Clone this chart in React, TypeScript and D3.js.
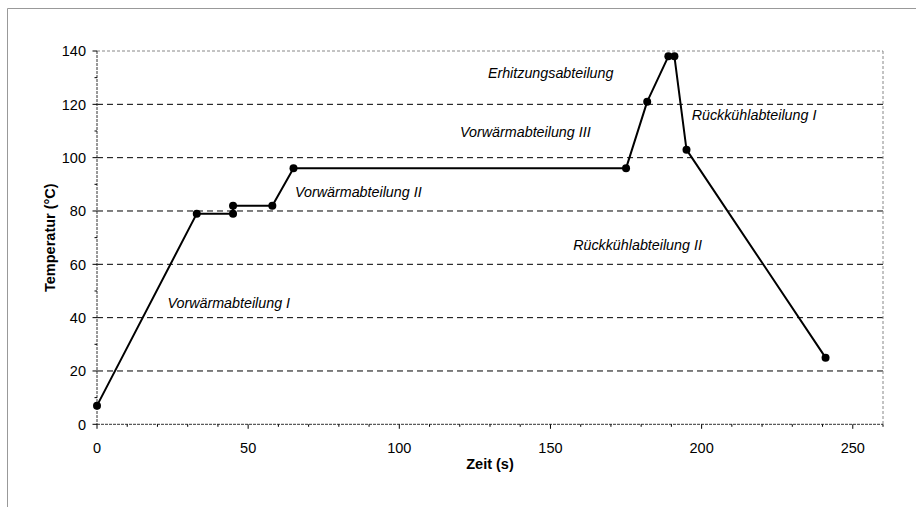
import React from "react";
import * as d3 from "d3";

const timeS = [0, 33, 45, 45, 58, 65, 175, 182, 189, 191, 195, 241];
const tempC = [7, 79, 79, 82, 82, 96, 96, 121, 138, 138, 103, 25];

const yMajorTicks = [0, 20, 40, 60, 80, 100, 120, 140];
const yMinorTicks = [10, 30, 50, 70, 90, 110, 130];
const xMajorTicks = [0, 50, 100, 150, 200, 250];
const xMinorTicks = [10, 20, 30, 40, 60, 70, 80, 90, 110, 120, 130, 140, 160, 170, 180, 190, 210, 220, 230, 240, 260];

const labelTexts = [
  "Vorwärmabteilung I",
  "Vorwärmabteilung II",
  "Vorwärmabteilung III",
  "Erhitzungsabteilung",
  "Rückkühlabteilung I",
  "Rückkühlabteilung II",
];
const labelX = [23.3, 65.5, 120.1, 129.3, 196.7, 157.5];
const labelY = [43.7, 85.3, 107.8, 130, 114.2, 65.4];

const xTitle = "Zeit (s)";
const yTitle = "Temperatur (°C)";

const W = 916;
const H = 507;
const FONT = "'Liberation Sans', Arial, sans-serif";

export default function App() {
  const x = d3.scaleLinear().domain([0, 260]).range([97, 883]);
  const y = d3.scaleLinear().domain([0, 140]).range([424.3, 51]);
  const pts = timeS.map((t, i) => [t, tempC[i]] as [number, number]);
  const line = d3
    .line<[number, number]>()
    .x((d) => x(d[0]))
    .y((d) => y(d[1]));

  const [x0, x1] = x.range();
  const [yb, yt] = y.range();

  return (
    <svg
      width={W}
      height={H}
      style={{ position: "absolute", left: 0, top: 0, background: "#fff" }}
      fontFamily={FONT}
    >
      <rect x={0} y={0} width={W} height={H} fill="#fff" />
      {/* outer frame */}
      <line x1={7.5} y1={8.5} x2={W} y2={8.5} stroke="#999" strokeWidth={1} />
      <line x1={7.5} y1={8.5} x2={7.5} y2={H} stroke="#999" strokeWidth={1} />

      {/* grid lines */}
      {yMajorTicks
        .filter((v) => v > 0 && v < 140)
        .map((v) => (
          <line
            key={"g" + v}
            x1={x0}
            x2={x1}
            y1={y(v)}
            y2={y(v)}
            stroke="#000"
            strokeWidth={1}
            strokeDasharray="6,4"
          />
        ))}

      {/* plot border top/right */}
      <line x1={x0} x2={x1} y1={yt} y2={yt} stroke="#888" strokeDasharray="3,2" />
      <line x1={x1} x2={x1} y1={yt} y2={yb} stroke="#888" strokeDasharray="3,2" />

      {/* axes */}
      <line x1={x0} x2={x1} y1={yb} y2={yb} stroke="#333" strokeDasharray="3,1" />
      <line x1={x0} x2={x0} y1={yt} y2={yb} stroke="#333" strokeDasharray="3,1" />

      {/* y ticks */}
      {yMajorTicks.map((v) => (
        <g key={"yt" + v}>
          <line x1={x0 - 4.5} x2={x0} y1={y(v)} y2={y(v)} stroke="#000" />
          <text x={x0 - 11} y={y(v)} dy="0.36em" textAnchor="end" fontSize={14.5} fill="#000">
            {v}
          </text>
        </g>
      ))}
      {yMinorTicks.map((v) => (
        <line key={"ym" + v} x1={x0 - 2.5} x2={x0} y1={y(v)} y2={y(v)} stroke="#000" />
      ))}

      {/* x ticks */}
      {xMajorTicks.map((v) => (
        <g key={"xt" + v}>
          <line x1={x(v)} x2={x(v)} y1={yb} y2={yb + 4.5} stroke="#000" />
          <text x={x(v)} y={yb + 29} textAnchor="middle" fontSize={14.5} fill="#000">
            {v}
          </text>
        </g>
      ))}
      {xMinorTicks.map((v) => (
        <line key={"xm" + v} x1={x(v)} x2={x(v)} y1={yb} y2={yb + 2.5} stroke="#000" />
      ))}

      {/* axis titles */}
      <text
        x={(x0 + x1) / 2}
        y={yb + 45}
        textAnchor="middle"
        fontSize={14.5}
        fontWeight="bold"
        fill="#000"
      >
        {xTitle}
      </text>
      <text
        transform={`translate(${55},${(yt + yb) / 2}) rotate(-90)`}
        textAnchor="middle"
        fontSize={14.5}
        fontWeight="bold"
        fill="#000"
      >
        {yTitle}
      </text>

      {/* data line */}
      <path d={line(pts) || ""} fill="none" stroke="#000" strokeWidth={2} strokeLinejoin="round" />
      {pts.map((d, i) => (
        <circle key={"p" + i} cx={x(d[0])} cy={y(d[1])} r={4} fill="#000" />
      ))}

      {/* annotations */}
      {labelTexts.map((t, i) => (
        <text
          key={"l" + i}
          x={x(labelX[i])}
          y={y(labelY[i])}
          fontSize={14.3}
          fontStyle="italic"
          fill="#000"
        >
          {t}
        </text>
      ))}
    </svg>
  );
}
